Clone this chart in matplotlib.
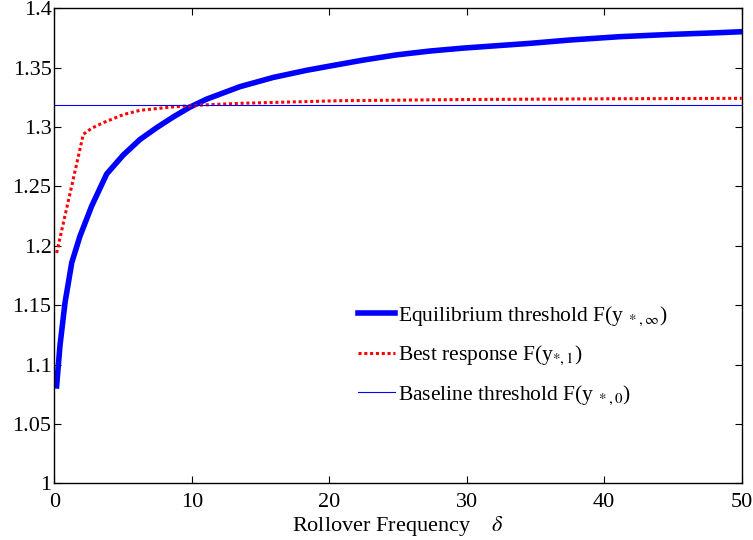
import matplotlib
matplotlib.use('Agg')
import matplotlib.pyplot as plt

plt.rcParams['font.family'] = ['Liberation Serif', 'DejaVu Serif']
plt.rcParams['mathtext.fontset'] = 'stix'

# equilibrium threshold (thick blue)
delta_eq = [0.17, 0.41, 0.78, 1.27, 1.87, 2.72, 3.81, 5.02, 6.23, 7.45, 8.65,
            9.87, 11.08, 13.5, 15.93, 18.35, 20.05, 22.47, 24.9, 27.3,
            29.75, 32.17, 34.6, 37.5, 41.1, 44.8, 48.4, 50.0]
f_eq = [1.082, 1.1156, 1.1521, 1.1858, 1.2082, 1.2335, 1.2605, 1.2765, 1.2895,
        1.2995, 1.3085, 1.3168, 1.3235, 1.3340, 1.3418, 1.3478, 1.3514,
        1.3564, 1.3608, 1.3640, 1.3665, 1.3685, 1.3705, 1.3733, 1.3761, 1.378,
        1.3795, 1.3803]

# best response (red dotted)
delta_br = [0.17, 2.11, 2.72, 3.56, 5.02, 6.24, 8.65, 10.6, 13.5, 20.8, 30.0,
            40.0, 50.0]
f_br = [1.194, 1.2939, 1.2990, 1.3037, 1.3105, 1.3141, 1.3170, 1.3185, 1.32,
        1.3222, 1.3232, 1.3238, 1.3242]

# baseline threshold
delta_base = [0, 50]
f_base = [1.3183, 1.3183]

fig = plt.figure(figsize=(7.53, 5.40), dpi=100)
ax = fig.add_axes([0.0721, 0.105, 0.9129, 0.8796])

ax.plot(delta_eq, f_eq, color='#0000ff', lw=4, solid_joinstyle='round',
        label=r'Equilibrium threshold F(y$_{\ *,\infty}$)')
ax.plot(delta_br, f_br, color='#ff0000', lw=2.2, ls=(0, (1, 0.9)),
        label=r'Best response F(y$_{*,1}$)')
ax.plot(delta_base, f_base, color='#0000ff', lw=0.8,
        label=r'Baseline threshold F(y$_{\ *,0}$)')

ax.set_xlim(0, 50)
ax.set_ylim(1, 1.4)
ax.set_xticks([0, 10, 20, 30, 40, 50])
ax.set_yticks([1, 1.05, 1.1, 1.15, 1.2, 1.25, 1.3, 1.35, 1.4])
ax.set_yticklabels(['1', '1.05', '1.1', '1.15', '1.2', '1.25', '1.3', '1.35', '1.4'])
ax.tick_params(direction='in', top=True, right=True, labelsize=16, length=5, pad=2)
ax.tick_params(axis='x', pad=7)
for s in ax.spines.values():
    s.set_linewidth(1)

ax.set_xlabel(r'Rollover Frequency    $\delta$', fontsize=16, labelpad=1.5)

ax.legend(loc='lower left', bbox_to_anchor=(0.413, 0.12), frameon=False,
          fontsize=15.5, handlelength=1.75, handletextpad=0.15, labelspacing=0.75)

fig.savefig('out.png', dpi=100)
